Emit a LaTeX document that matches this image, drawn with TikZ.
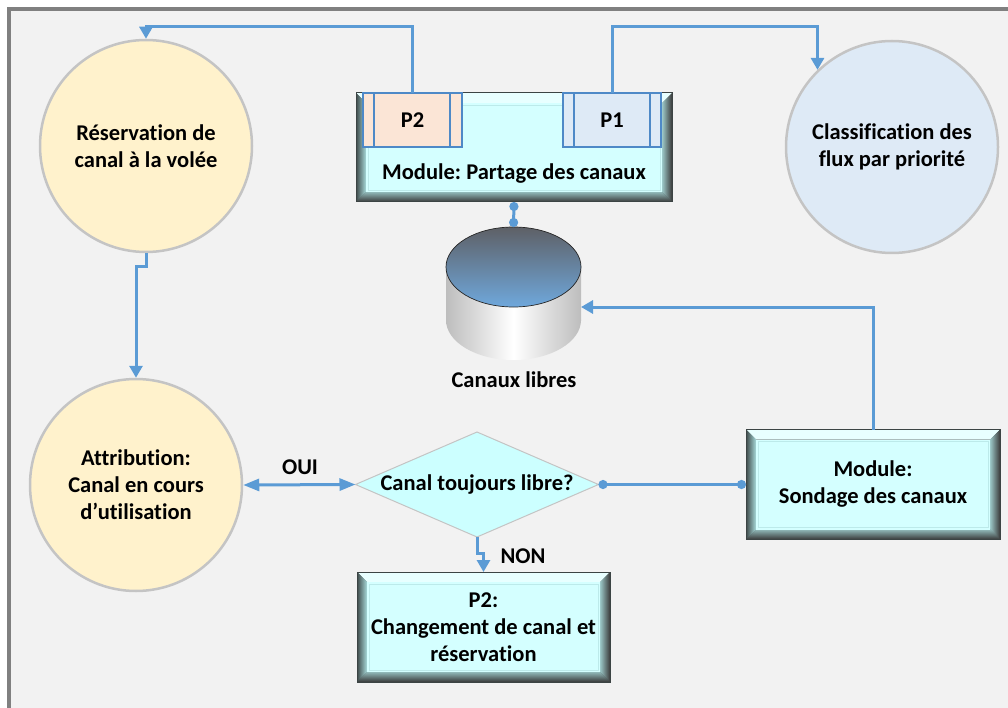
\documentclass[tikz,border=0pt]{standalone}
\usepackage{fontspec}
\setmainfont{Carlito}[Ligatures=NoCommon]
\frenchspacing
\usetikzlibrary{calc,arrows.meta,shapes.geometric}
\pgfdeclarelayer{back}
\pgfdeclarelayer{bev}
\pgfsetlayers{back,bev,main}
\definecolor{bgc}{HTML}{F2F2F2}
\definecolor{framec}{HTML}{808080}
\definecolor{connc}{HTML}{5B9BD5}
\definecolor{yel}{HTML}{FFF2CC}
\definecolor{lbl}{HTML}{DEEAF6}
\definecolor{circline}{HTML}{C4C4C4}
\definecolor{peach}{HTML}{FBE5D6}
\definecolor{pblue}{HTML}{4E89C7}
\definecolor{cyand}{HTML}{CCFFFF}
\definecolor{facec}{HTML}{D4FFFF}
\definecolor{faceline}{HTML}{BCEAEA}
\definecolor{bevtop}{HTML}{E8FFFF}
\definecolor{bevdark}{HTML}{3C4444}
\definecolor{bevLa}{HTML}{3F4A4A}
\definecolor{bevLb}{HTML}{A8DADA}
\definecolor{bevRa}{HTML}{3A3A3A}
\definecolor{bevRb}{HTML}{9CC8C8}
\definecolor{bevBa}{HTML}{383838}
\definecolor{bevBb}{HTML}{90B8B8}
\definecolor{cylside}{HTML}{BDBDBD}
\definecolor{cyltopa}{HTML}{5E6066}
\definecolor{cyltopb}{HTML}{6FA8DC}
\newcommand{\dtxt}{\bfseries\fontsize{22.5}{27}\selectfont}
\newcommand{\bw}{10}
\newcommand{\bevelbox}[1]{%
\begin{pgfonlayer}{bev}
 \fill[bevdark] (#1.north west) rectangle (#1.south east);
 \fill[bevtop] (#1.north west) -- (#1.north east) -- ($(#1.north east)+(-\bw,\bw)$) -- ($(#1.north west)+(\bw,\bw)$) -- cycle;
 \shade[left color=bevLa, right color=bevLb] (#1.north west) -- ($(#1.north west)+(\bw,\bw)$) -- ($(#1.south west)+(\bw,-\bw)$) -- (#1.south west) -- cycle;
 \shade[left color=bevRb, right color=bevRa] (#1.north east) -- ($(#1.north east)+(-\bw,\bw)$) -- ($(#1.south east)+(-\bw,-\bw)$) -- (#1.south east) -- cycle;
 \shade[top color=bevBb, bottom color=bevBa] (#1.south west) -- ($(#1.south west)+(\bw,-\bw)$) -- ($(#1.south east)+(-\bw,-\bw)$) -- (#1.south east) -- cycle;
 \fill[facec] ($(#1.north west)+(\bw,\bw)$) rectangle ($(#1.south east)+(-\bw,-\bw)$);
 \draw[faceline, line width=0.8pt] ($(#1.north west)+(\bw+2,\bw+2)$) rectangle ($(#1.south east)+(-\bw-2,-\bw-2)$);
 \draw[bevdark, line width=1pt] (#1.north west) rectangle (#1.south east);
\end{pgfonlayer}}
\begin{document}
\begin{tikzpicture}[x=1pt,y=-1pt,
  conn/.style={draw=connc, line width=3pt},
  tri/.tip={Triangle[length=12pt,width=13pt]},
  dot/.tip={Circle[length=9pt]},
  circ/.style={circle, draw=circline, line width=2.5pt, minimum size=212pt, inner sep=0pt, align=center, font=\dtxt},
  bevbox/.style={rectangle, inner sep=0pt, outer sep=0pt, align=center, font=\dtxt},
  pbox/.style={rectangle, draw=pblue, line width=2pt, minimum height=54pt, inner sep=0pt, outer sep=0pt, font=\dtxt},
  lab/.style={font=\dtxt, inner sep=0pt}]
\useasboundingbox (0,0) rectangle (1008,708);
\begin{pgfonlayer}{back}
\fill[white] (0,0) rectangle (1008,708);
\fill[bgc] (9,9) rectangle (1008,708);
\draw[framec, line width=4pt] (9,710) -- (9,9) -- (1010,9);
\end{pgfonlayer}

% circles
\node[circ, fill=yel] (res) at (146,146) {Réservation de\\canal à la volée};
\node[circ, fill=yel] (att) at (136,485) {Attribution:\\Canal en cours\\d’utilisation};
\node[circ, fill=lbl] (cls) at (892,147) {Classification des\\flux par priorité};

% top module
\node[bevbox, minimum width=316pt, minimum height=109pt] (mod) at (514,147.5) {};
\bevelbox{mod}
\node[lab] (modlab) at (514,174) {Module: Partage des canaux};
\node[pbox, fill=peach, minimum width=99pt] (p2) at (412.5,120) {P2};
\draw[pblue, line width=2pt] ($(p2.north west)+(11,0)$) -- ($(p2.south west)+(11,0)$)
  ($(p2.north east)+(-12,0)$) -- ($(p2.south east)+(-12,0)$);
\node[pbox, fill=lbl, minimum width=98pt] (p1) at (612,120) {P1};
\draw[pblue, line width=2pt] ($(p1.north west)+(11,0)$) -- ($(p1.south west)+(11,0)$)
  ($(p1.north east)+(-11,0)$) -- ($(p1.south east)+(-11,0)$);

% cylinder
\node[inner sep=0pt, outer sep=0pt, minimum width=135pt, minimum height=133pt] (cyl) at (513.5,293.5) {};
\shade[left color=cylside, right color=cylside, middle color=white] (446,267) rectangle (581,320);
\shade[left color=cylside, right color=cylside, middle color=white] (513.5,320) ellipse [x radius=67.5pt, y radius=40pt];
\shadedraw[top color=cyltopa, bottom color=cyltopb, draw=black!85, line width=0.7pt] (513.5,267) ellipse [x radius=67.5pt, y radius=40pt];
\node[lab] (cyllab) at (514,380) {Canaux libres};

% sondage and change boxes
\node[bevbox, minimum width=254pt, minimum height=110pt] (son) at (873,484.5) {Module:\\Sondage des canaux};
\bevelbox{son}
\node[bevbox, minimum width=253pt, minimum height=110pt] (chg) at (483.5,627) {P2:\\Changement de canal et\\réservation};
\bevelbox{chg}

% diamond
\node[diamond, aspect=2.3, draw=circline, line width=1pt, fill=cyand, minimum width=243pt, minimum height=105pt, inner sep=0pt, outer sep=0pt, font=\dtxt] (dia) at (477,484.5) {Canal toujours libre?};

% labels
\node[lab] (oui) at (300,467) {OUI};
\node[lab] (non) at (523,556) {NON};

% connectors
\draw[conn, -{tri}] (p2.north) -- (p2.north |- 0,27) -| (res.north);
\draw[conn, -{tri}] (p1.north) -- (p1.north |- 0,27) -| (cls.134);
\draw[conn, {dot}-{dot}] (mod.south) -- (cyl.north);
\draw[conn, -{tri}] (son.north) |- (cyl.east |- 0,307);
\draw[conn, {Triangle[length=16pt,width=12pt]}-{Triangle[length=16pt,width=12pt]}] (att.east) -- (dia.west);
\draw[conn, {dot}-{dot}] (dia.east) -- (son.west);
\draw[conn, -{tri}] (dia.south) -- ($(dia.south)+(0,16)$) -| (chg.north);
\draw[conn, -{tri}] (res.south) -- ($(res.south)+(0,13)$) -| (att.north);
\end{tikzpicture}
\end{document}
